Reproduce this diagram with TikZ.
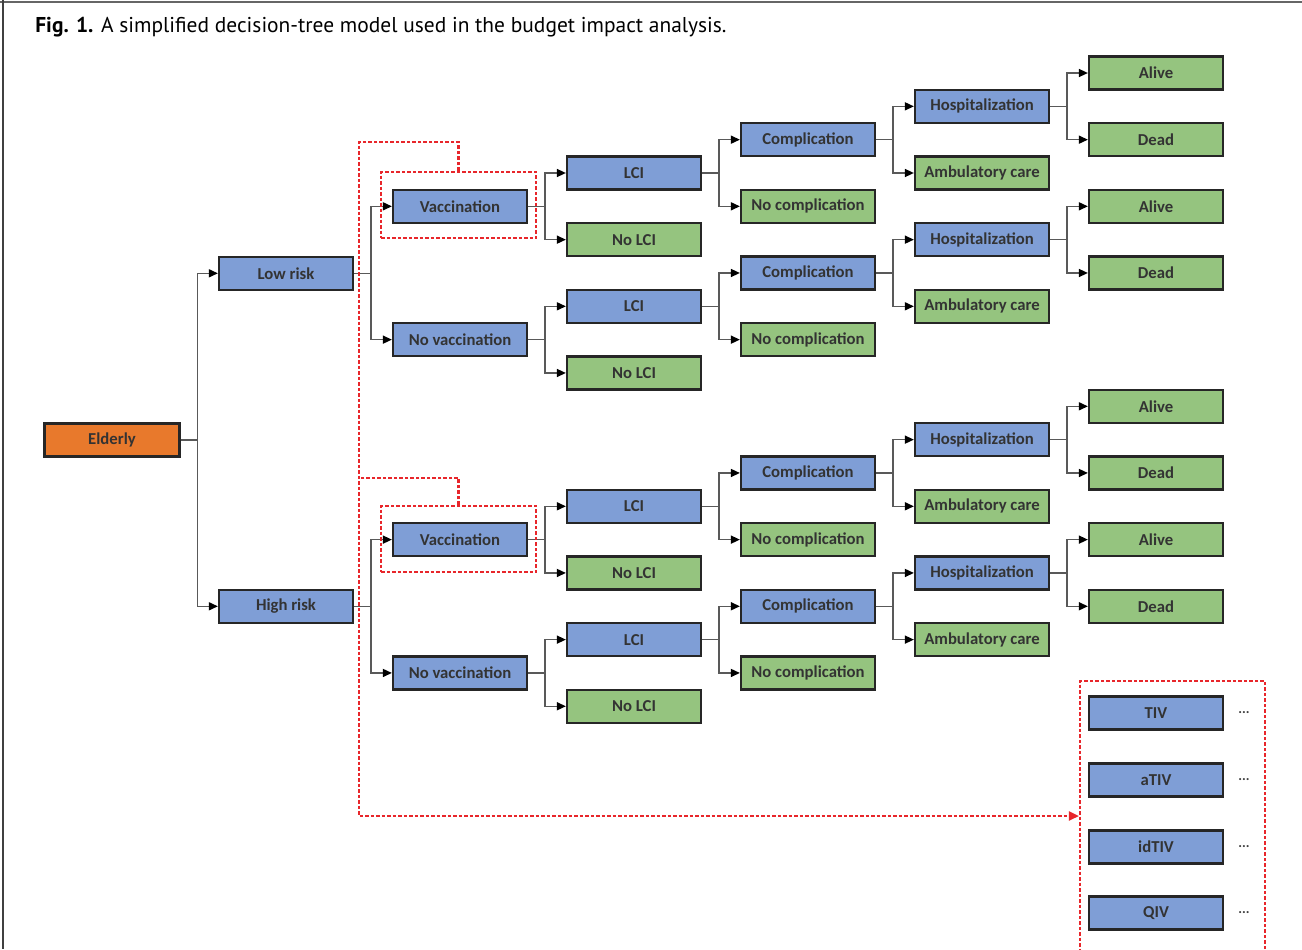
\documentclass[tikz,border=0pt]{standalone}
\usepackage{fontspec}
\setmainfont{Carlito}
\newfontfamily\capfont{PT Sans}
\usetikzlibrary{arrows.meta}

\definecolor{boxblue}{HTML}{7F9ED6}
\definecolor{boxgreen}{HTML}{95C47F}
\definecolor{boxorange}{HTML}{E8792C}
\definecolor{dashred}{HTML}{E8262B}

\tikzset{
  treebox/.style={draw=black!85, line width=0.45mm, minimum width=26.8mm, minimum height=6.6mm,
    inner sep=0pt, font=\bfseries\fontsize{9.5}{11}\selectfont, text=black!80},
  bluebox/.style={treebox, fill=boxblue},
  greenbox/.style={treebox, fill=boxgreen},
  branch/.style={draw=black!65, line width=0.3mm, -{Triangle[length=1.8mm, width=1.6mm, black]}},
  reddash/.style={draw=dashred, line width=0.42mm, dash pattern=on 0.7mm off 0.4mm},
}

\begin{document}
\begin{tikzpicture}[x=0.2mm, y=-0.2mm]
    \useasboundingbox (0,0) rectangle (1302,949);
    % frame and caption
    \draw[black!60, line width=0.4mm] (0,2) -- (1302,2);
    \draw[black!75, line width=0.5mm] (3,0) -- (3,949);
    \node[anchor=base west, inner sep=0pt, font=\capfont\fontsize{12.2}{14}\selectfont] (caption) at (35,32)
        {\textbf{Fig. 1.} A simplified decision-tree model used in the budget impact analysis.};

    \node[treebox, fill=boxorange, minimum width=27mm] (eld) at (112,440) {Elderly};
    \node[bluebox] (low) at (286,273.3) {Low risk};
    \node[bluebox] (high) at (286,606.3) {High risk};

    % the four identical subtrees
    \foreach \n/\k/\txt in {a/4/Vaccination, b/8/No vaccination, c/14/Vaccination, d/18/No vaccination} {
        \node[bluebox] (vac\n) at (460,{73+33.33*\k}) {\txt};
        \node[bluebox] (lci\n) at (634,{73+33.33*(\k-1)}) {LCI};
        \node[greenbox] (nolci\n) at (634,{73+33.33*(\k+1)}) {No LCI};
        \node[bluebox] (comp\n) at (808,{73+33.33*(\k-2)}) {Complication};
        \node[greenbox] (nocomp\n) at (808,{73+33.33*\k}) {No complication};
        \node[bluebox] (hosp\n) at (982,{73+33.33*(\k-3)}) {Hospitalization};
        \node[greenbox] (amb\n) at (982,{73+33.33*(\k-1)}) {Ambulatory care};
        \node[greenbox] (alive\n) at (1156,{73+33.33*(\k-4)}) {Alive};
        \node[greenbox] (dead\n) at (1156,{73+33.33*(\k-2)}) {Dead};
        \foreach \p/\c in {vac/lci, vac/nolci, lci/comp, lci/nocomp, comp/hosp, comp/amb, hosp/alive, hosp/dead}
            \draw[branch] (\p\n.east) -- ++(17,0) |- (\c\n.west);
    }
    \foreach \p/\c in {eld/low, eld/high, low/vaca, low/vacb, high/vacc, high/vacd}
        \draw[branch] (\p.east) -- ++(17,0) |- (\c.west);

    % vaccine options
    \node[reddash, minimum width=31mm, minimum height=13.2mm] (sela) at (458.5,205) {};
    \node[reddash, minimum width=31mm, minimum height=13.2mm] (selc) at (458.5,539) {};
    \node[reddash, minimum width=37mm, minimum height=54mm] (grp) at (1172.5,816) {};
    \foreach \n/\y/\txt in {tiv/713/TIV, ativ/780/aTIV, idtiv/847/idTIV, qiv/913/QIV} {
        \node[bluebox] (\n) at (1156,\y) {\txt};
        \node[font=\bfseries\footnotesize, text=black!75] (dots\n) at (1244,\y) {...};
    }
    \coordinate (trunktop) at (359,142);
    \coordinate (trunkmid) at (359,478);
    \draw[reddash, -{Triangle[length=2mm, width=1.8mm, dashred]}] (sela.north) |- (trunktop)
        -- (trunktop |- grp.west) -- (grp.west);
    \draw[reddash] (selc.north) |- (trunkmid);
\end{tikzpicture}
\end{document}
